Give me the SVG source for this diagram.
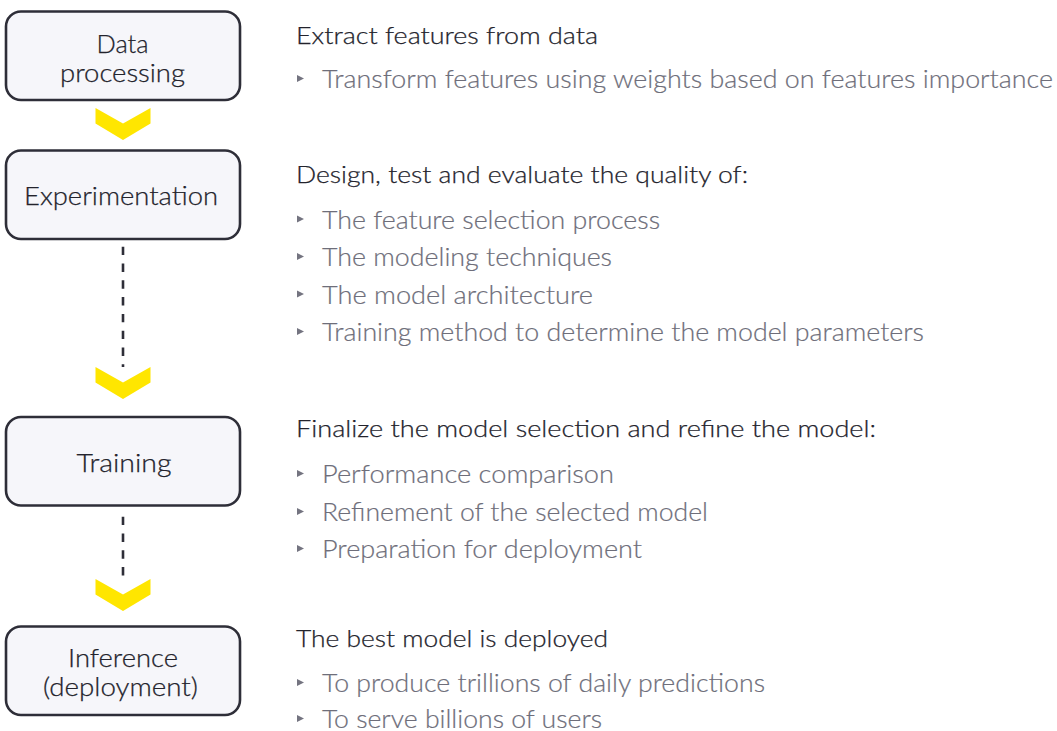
<svg xmlns="http://www.w3.org/2000/svg" width="1057" height="731" viewBox="0 0 1057 731">
<style>
.box{fill:#f6f6fa;stroke:#2e2e38;stroke-width:2.6}
.bt{font-family:Lato,"Liberation Sans",Arial,sans-serif;font-weight:300;font-size:24.5px;fill:#23232c;stroke:#23232c;stroke-width:0.25;text-anchor:middle}
.h{font-family:Lato,"Liberation Sans",Arial,sans-serif;font-weight:300;font-size:23.5px;fill:#23232c;stroke:#23232c;stroke-width:0.25}
.b{font-family:Lato,"Liberation Sans",Arial,sans-serif;font-weight:300;font-size:25.5px;fill:#6e6e7a;stroke:#6e6e7a;stroke-width:0.2}
.tri{fill:#747480}
.chev{fill:#ffe600}
.dash{stroke:#2e2e38;stroke-width:2.6;stroke-dasharray:8.4 8.4;fill:none}
</style>
<defs>
<polygon id="tri" class="tri" points="0,-3.5 7,0 0,3.5"/>
<polygon id="chev" class="chev" points="-27.5,0 0,15.5 27.5,0 27.5,15.5 0,32 -27.5,15.5"/>
</defs>
<rect width="1057" height="731" fill="#ffffff"/>
<g id="connectors">
<use href="#chev" x="123" y="108"/>
<line class="dash" x1="123" y1="246.7" x2="123" y2="367"/>
<use href="#chev" x="123" y="367"/>
<line class="dash" x1="123" y1="516.7" x2="123" y2="580"/>
<use href="#chev" x="123" y="579"/>
</g>
<g id="node-data">
<rect class="box" x="6" y="11.5" width="234" height="88.5" rx="15"/>
<text class="bt" x="122.5" y="53" textLength="52" lengthAdjust="spacingAndGlyphs">Data</text>
<text class="bt" x="122.5" y="82" textLength="125" lengthAdjust="spacingAndGlyphs">processing</text>
</g>
<g id="node-exp">
<rect class="box" x="6" y="150.5" width="234" height="88.5" rx="15"/>
<text class="bt" x="121" y="205" textLength="194" lengthAdjust="spacingAndGlyphs">Experimentation</text>
</g>
<g id="node-train">
<rect class="box" x="6" y="417" width="234" height="88.5" rx="15"/>
<text class="bt" x="124" y="472" textLength="95" lengthAdjust="spacingAndGlyphs">Training</text>
</g>
<g id="node-inf">
<rect class="box" x="6" y="626.5" width="234" height="88.5" rx="15"/>
<text class="bt" x="123" y="667" textLength="110" lengthAdjust="spacingAndGlyphs">Inference</text>
<text class="bt" x="120.5" y="695.5" textLength="155" lengthAdjust="spacingAndGlyphs">(deployment)</text>
</g>
<g id="desc-data">
<text class="h" x="296" y="44" textLength="302" lengthAdjust="spacingAndGlyphs">Extract features from data</text>
<use href="#tri" x="297" y="78.5"/>
<text class="b" x="322" y="88" textLength="731" lengthAdjust="spacingAndGlyphs">Transform features using weights based on features importance</text>
</g>
<g id="desc-exp">
<text class="h" x="296" y="183" textLength="452" lengthAdjust="spacingAndGlyphs">Design, test and evaluate the quality of:</text>
<use href="#tri" x="297" y="219"/>
<text class="b" x="322" y="228.5" textLength="338" lengthAdjust="spacingAndGlyphs">The feature selection process</text>
<use href="#tri" x="297" y="256.5"/>
<text class="b" x="322" y="266" textLength="290" lengthAdjust="spacingAndGlyphs">The modeling techniques</text>
<use href="#tri" x="297" y="294"/>
<text class="b" x="322" y="303.5" textLength="271" lengthAdjust="spacingAndGlyphs">The model architecture</text>
<use href="#tri" x="297" y="331.5"/>
<text class="b" x="322" y="341" textLength="602" lengthAdjust="spacingAndGlyphs">Training method to determine the model parameters</text>
</g>
<g id="desc-train">
<text class="h" x="296" y="437" textLength="580" lengthAdjust="spacingAndGlyphs">Finalize the model selection and refine the model:</text>
<use href="#tri" x="297" y="473.5"/>
<text class="b" x="322" y="483" textLength="292" lengthAdjust="spacingAndGlyphs">Performance comparison</text>
<use href="#tri" x="297" y="511.5"/>
<text class="b" x="322" y="521" textLength="386" lengthAdjust="spacingAndGlyphs">Refinement of the selected model</text>
<use href="#tri" x="297" y="548.5"/>
<text class="b" x="322" y="558" textLength="320" lengthAdjust="spacingAndGlyphs">Preparation for deployment</text>
</g>
<g id="desc-inf">
<text class="h" x="296" y="647" textLength="312" lengthAdjust="spacingAndGlyphs">The best model is deployed</text>
<use href="#tri" x="297" y="682.5"/>
<text class="b" x="322" y="692" textLength="443" lengthAdjust="spacingAndGlyphs">To produce trillions of daily predictions</text>
<use href="#tri" x="297" y="718.5"/>
<text class="b" x="322" y="728" textLength="280" lengthAdjust="spacingAndGlyphs">To serve billions of users</text>
</g>
</svg>
